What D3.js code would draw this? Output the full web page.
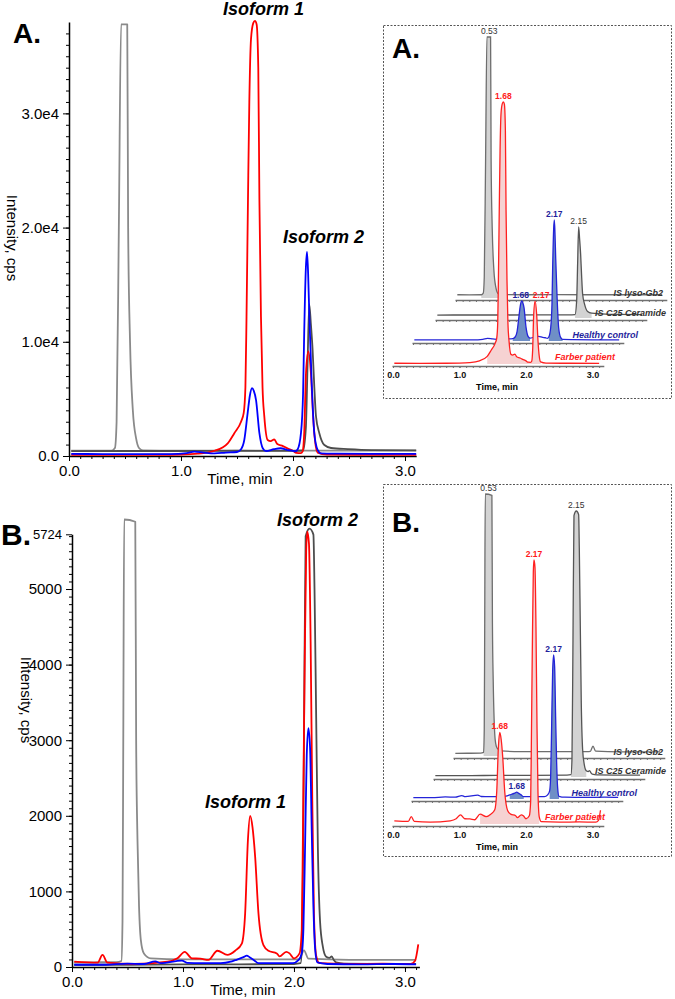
<!DOCTYPE html>
<html><head><meta charset="utf-8">
<script src="https://cdn.jsdelivr.net/npm/d3@7"></script>
<style>body{margin:0;background:#fff}svg{display:block}</style>
</head><body><svg id="c" width="675" height="999"></svg>
<script>
// ---------------- DATA ----------------
const seriesNames = ["IS lyso-Gb2", "IS C25 Ceramide", "Healthy control", "Farber patient"];
const timeTicks = [0, 1, 2, 3];
const yTicksA = [0, 10000, 20000, 30000];
const yTickLabelsA = ["0.0", "1.0e4", "2.0e4", "3.0e4"];
const yTicksB = [0, 1000, 2000, 3000, 4000, 5000, 5724];
const yTickLabelsB = ["0", "1000", "2000", "3000", "4000", "5000", "5724"];

// Panel A chromatograms [time (min), intensity (cps)]
const lysoA = [[0.02,470],[0.2,460],[0.38,470],[0.41,700],[0.425,3000],[0.445,20000],[0.465,37800],[0.52,37800],[0.528,20000],[0.545,10000],[0.57,4000],[0.6,1500],[0.625,700],[0.66,480],[1.0,470],[1.5,480],[2.0,470],[2.5,470],[3.1,470]];
const c25A = [[0.02,430],[0.5,440],[1.0,440],[1.5,450],[2.0,450],[2.09,480],[2.115,2500],[2.13,8000],[2.145,13300],[2.16,11500],[2.175,9300],[2.19,6100],[2.205,3500],[2.235,2000],[2.28,960],[2.34,700],[2.49,600],[2.7,520],[3.1,500]];
const healthyA = [[0.02,180],[0.3,170],[0.6,160],[0.9,170],[1.05,250],[1.12,380],[1.2,300],[1.3,230],[1.4,300],[1.5,350],[1.536,590],[1.565,1400],[1.595,3750],[1.615,5300],[1.634,5940],[1.65,5700],[1.67,4900],[1.70,2000],[1.73,680],[1.76,420],[1.83,600],[1.89,680],[1.95,520],[1.99,480],[2.02,400],[2.042,590],[2.071,2000],[2.09,5500],[2.10,10760],[2.115,16500],[2.125,17870],[2.135,16000],[2.146,12200],[2.167,6400],[2.19,2000],[2.22,530],[2.25,230],[2.4,200],[2.7,180],[3.1,180]];
const farberA = [[0.02,110],[0.4,100],[0.8,110],[1.0,130],[1.15,200],[1.3,460],[1.417,1110],[1.476,2000],[1.536,3000],[1.56,3770],[1.575,6000],[1.585,12200],[1.598,22450],[1.61,31000],[1.625,36500],[1.645,37900],[1.66,38100],[1.675,37800],[1.69,34000],[1.70,22450],[1.714,12200],[1.728,6000],[1.744,3450],[1.774,1400],[1.80,1300],[1.833,1450],[1.86,1050],[1.91,870],[1.95,670],[2.0,460],[2.03,270],[2.07,250],[2.086,400],[2.10,2000],[2.116,7250],[2.137,9150],[2.16,7250],[2.18,3450],[2.196,1400],[2.22,300],[2.3,130],[2.6,110],[3.1,100]];

// Panel B chromatograms
const lysoB = [[0.02,60],[0.2,62],[0.4,65],[0.445,80],[0.455,600],[0.462,3000],[0.47,5920],[0.57,5890],[0.578,3000],[0.59,1680],[0.604,800],[0.62,360],[0.648,180],[0.71,115],[1.0,100],[1.5,100],[2.0,100],[2.05,105],[2.09,220],[2.13,110],[2.5,95],[3.1,95]];
const c25B = [[0.02,30],[0.5,30],[1.0,35],[1.5,35],[2.0,40],[2.06,50],[2.075,400],[2.09,3000],[2.105,5700],[2.14,5800],[2.175,5720],[2.185,5000],[2.2,3300],[2.215,1600],[2.235,600],[2.26,270],[2.29,136],[2.32,120],[2.34,140],[2.36,90],[2.38,60],[2.45,45],[3.1,40]];
const healthyB = [[0.02,30],[0.3,30],[0.5,45],[0.65,40],[0.75,75],[0.8,50],[0.99,85],[1.04,55],[1.16,50],[1.34,50],[1.43,70],[1.47,90],[1.545,130],[1.575,150],[1.6,130],[1.64,90],[1.68,50],[1.75,50],[1.9,50],[1.99,50],[2.04,90],[2.07,180],[2.085,500],[2.1,1600],[2.115,2800],[2.13,3160],[2.145,2900],[2.16,1800],[2.175,800],[2.19,250],[2.21,60],[2.3,40],[2.6,35],[2.9,40],[3.1,35]];
const farberB = [[0.02,70],[0.23,57],[0.275,160],[0.32,57],[0.56,40],[0.86,70],[0.95,115],[1.016,200],[1.08,115],[1.157,110],[1.23,93],[1.31,215],[1.40,160],[1.47,215],[1.53,310],[1.56,710],[1.585,1680],[1.605,2000],[1.626,1855],[1.65,1460],[1.68,710],[1.725,290],[1.77,215],[1.845,180],[1.87,140],[1.93,200],[1.96,180],[2.0,115],[2.05,180],[2.07,490],[2.08,1680],[2.095,3800],[2.11,5500],[2.12,5760],[2.135,5600],[2.15,4300],[2.165,2200],[2.18,700],[2.2,150],[2.23,50],[2.5,40],[2.8,45],[3.05,40],[3.09,80],[3.12,300]];

// integrated (filled) peak windows in the insets, per series
const fillWindowsA = [[[0.38,0.7]], [[2.09,2.35]], [[1.5,1.78],[2.03,2.25]], [[1.35,2.25]]];
const fillWindowsB = [[[0.44,0.72]], [[2.06,2.3]], [[1.45,1.72],[2.06,2.22]], [[1.28,2.22]]];
// retention-time labels: [series index, time, text]
const peakLabelsA = [[0,0.5,"0.53"],[3,1.66,"1.68"],[2,2.125,"2.17"],[1,2.145,"2.15"],[2,1.634,"1.68"],[3,2.137,"2.17"]];
const peakLabelsB = [[0,0.52,"0.53"],[3,2.12,"2.17"],[2,2.13,"2.17"],[1,2.14,"2.15"],[3,1.605,"1.68"],[2,1.575,"1.68"]];

// ---------------- STYLE ----------------
const FONT = "'Liberation Sans', Arial, Helvetica, sans-serif";
const mainColors = ["#8a8a8a", "#4d4d4d", "#0000ff", "#ff0000"];
const insetLine = ["#6e6e6e", "#555555", "#2424d8", "#ff2020"];
const insetFill = ["#d3d3d3", "#d3d3d3", "#6f8fc6", "#f6d2d2"];
const labelColors = ["#333333", "#333333", "#1f1f9c", "#ff1a1a"];
const peakNudgeA = [0, 0, 0, 0, -1, 6];
const peakNudgeB = [0, 0, 0, 0, 0, 0];

const svg = d3.select("#c");

function styleAxis(sel, fs) {
  sel.selectAll("text").attr("font-family", FONT).attr("font-size", fs).attr("fill", "#000");
  sel.selectAll("line").attr("stroke", "#000");
  sel.select(".domain").attr("stroke", "#000").attr("stroke-width", 1.5);
}

function mainPanel(cfg) {
  const x = d3.scaleLinear().domain(cfg.xDomain).range(cfg.xRange);
  const y = d3.scaleLinear().domain(cfg.yDomain).range(cfg.yRange);
  const g = svg.append("g");
  const x0 = cfg.xRange[0], y0 = cfg.yRange[0];
  g.append("g").attr("transform", `translate(${x0},0)`)
    .call(d3.axisLeft(y).tickValues(d3.range(0, cfg.yDomain[1], cfg.yMinorStep)).tickSize(3).tickFormat(""))
    .call(a => { a.select(".domain").remove(); a.selectAll("line").attr("stroke", "#000"); });
  const ya = g.append("g").attr("transform", `translate(${x0},0)`)
    .call(d3.axisLeft(y).tickValues(cfg.yTicks).tickFormat((d, i) => cfg.yLabels[i]).tickSize(6).tickPadding(4).tickSizeOuter(0));
  styleAxis(ya, 15);
  ya.selectAll("text").filter(d => d === 5724).attr("font-size", 13);
  g.append("g").attr("transform", `translate(0,${y0})`)
    .call(d3.axisBottom(x).tickValues(d3.range(0, cfg.xDomain[1], 0.1)).tickSize(3).tickFormat(""))
    .call(a => { a.select(".domain").remove(); a.selectAll("line").attr("stroke", "#000"); });
  const xa = g.append("g").attr("transform", `translate(0,${y0})`)
    .call(d3.axisBottom(x).tickValues(timeTicks).tickFormat(d3.format(".1f")).tickSize(5).tickPadding(4).tickSizeOuter(0));
  styleAxis(xa, 15);
  const line = d3.line().x(d => x(d[0])).y(d => y(d[1])).curve(d3.curveMonotoneX);
  cfg.order.forEach(i => {
    g.append("path").datum(cfg.series[i]).attr("d", line)
      .attr("fill", "none").attr("stroke", mainColors[i]).attr("stroke-width", 1.8)
      .attr("stroke-linejoin", "round");
  });
  g.append("text").attr("x", cfg.xTitle[0]).attr("y", cfg.xTitle[1]).attr("text-anchor", "middle")
    .attr("font-family", FONT).attr("font-size", 15).text("Time, min");
  g.append("text").attr("transform", `translate(${cfg.yTitle[0]},${cfg.yTitle[1]}) rotate(90)`)
    .attr("text-anchor", "middle").attr("font-family", FONT).attr("font-size", 15).text("Intensity, cps");
  g.append("text").attr("x", cfg.letter[0]).attr("y", cfg.letter[1]).attr("font-family", FONT)
    .attr("font-weight", "bold").attr("font-size", cfg.letter[2]).text(cfg.letterText);
  cfg.iso.forEach(s => g.append("text").attr("x", s[0]).attr("y", s[1]).attr("font-family", FONT)
    .attr("font-weight", "bold").attr("font-style", "italic").attr("font-size", 18).text(s[2]));
}

mainPanel({
  xDomain: [0, 3.1], xRange: [69, 416.2], yDomain: [0, 38000], yRange: [456, 22], yMinorStep: 1000,
  yTicks: yTicksA, yLabels: yTickLabelsA, series: [lysoA, c25A, healthyA, farberA], order: [0, 1, 3, 2],
  xTitle: [240, 484], yTitle: [7, 238], letter: [13, 43, 28], letterText: "A.",
  iso: [[223, 15, "Isoform 1"], [283, 243, "Isoform 2"]]
});
mainPanel({
  xDomain: [0, 3.13], xRange: [72, 419.4], yDomain: [0, 5724], yRange: [967, 534.3], yMinorStep: 100,
  yTicks: yTicksB, yLabels: yTickLabelsB, series: [lysoB, c25B, healthyB, farberB], order: [0, 1, 3, 2],
  xTitle: [243, 995], yTitle: [21, 700], letter: [1, 545, 30], letterText: "B.",
  iso: [[277, 526, "Isoform 2"], [205, 808, "Isoform 1"]]
});

function inset(cfg) {
  const g = svg.append("g");
  g.append("rect").attr("x", 383.5).attr("y", cfg.top + 0.5).attr("width", 288).attr("height", cfg.bottom - cfg.top)
    .attr("fill", "none").attr("stroke", "#555").attr("stroke-width", 1).attr("stroke-dasharray", "2,1.5");
  const xi = d3.scaleLinear().domain([-0.015, 3.17]).range([392, 392 + 3.185 * 66.5]);
  const ys = cfg.series.map((s, i) => {
    const zero = cfg.axisY[i] - 2;
    return d3.scaleLinear().domain([0, d3.max(s, d => d[1])]).range([zero, zero - cfg.heights[i]]);
  });
  [0, 1, 2, 3].forEach(i => {
    const s = cfg.series[i], y = ys[i], dx = cfg.dx[i];
    const tg = g.append("g").attr("transform", `translate(${dx},0)`);
    tg.append("g").attr("transform", `translate(0,${cfg.axisY[i]})`)
      .call(d3.axisBottom(xi).tickValues(d3.range(0, 3.16, 0.1)).tickSize(2).tickFormat("").tickSizeOuter(0))
      .call(a => { a.select(".domain").attr("stroke", "#707070").attr("stroke-width", 1.6); a.selectAll("line").attr("stroke", "#707070"); });
    const area = d3.area().x(d => xi(d[0])).y0(y(0)).y1(d => y(d[1])).curve(d3.curveMonotoneX);
    cfg.windows[i].forEach(w => {
      tg.append("path").datum(s.filter(d => d[0] >= w[0] && d[0] <= w[1])).attr("d", area).attr("fill", insetFill[i]);
    });
    tg.append("path").datum(s).attr("d", d3.line().x(d => xi(d[0])).y(d => y(d[1])).curve(d3.curveMonotoneX))
      .attr("fill", "none").attr("stroke", insetLine[i]).attr("stroke-width", 1.3);
  });
  const la = g.append("g").attr("transform", `translate(0,${cfg.axisY[3]})`)
    .call(d3.axisBottom(xi).tickValues(timeTicks).tickFormat(d3.format(".1f")).tickSize(2).tickPadding(4).tickSizeOuter(0));
  la.select(".domain").remove();
  la.selectAll("line").attr("stroke", "#707070");
  la.selectAll("text").attr("font-family", FONT).attr("font-size", 9).attr("font-weight", "bold").attr("fill", "#111");
  g.append("text").attr("x", 497).attr("y", cfg.axisY[3] + 24).attr("text-anchor", "middle")
    .attr("font-family", FONT).attr("font-size", 9).attr("font-weight", "bold").text("Time, min");
  seriesNames.forEach((n, i) => {
    g.append("text").attr("x", cfg.names[i][0]).attr("y", cfg.names[i][1]).attr("text-anchor", "end")
      .attr("font-family", FONT).attr("font-size", 9).attr("font-weight", "bold").attr("font-style", "italic")
      .attr("fill", labelColors[i]).text(n);
  });
  cfg.peaks.forEach((p, k) => {
    const s = cfg.series[p[0]];
    const v = d3.max(s.filter(d => Math.abs(d[0] - p[1]) <= 0.06), d => d[1]);
    g.append("text").attr("x", xi(p[1]) + cfg.dx[p[0]] + cfg.nudge[k]).attr("y", ys[p[0]](v) - 3).attr("text-anchor", "middle")
      .attr("font-family", FONT).attr("font-size", 8.5).attr("font-weight", p[0] >= 2 ? "bold" : "normal")
      .attr("fill", labelColors[p[0]]).text(p[2]);
  });
  g.append("text").attr("x", 392).attr("y", cfg.letterY).attr("font-family", FONT).attr("font-weight", "bold")
    .attr("font-size", 28).text(cfg.letter);
}

inset({
  top: 25, bottom: 398, letter: "A.", letterY: 58,
  series: [lysoA, c25A, healthyA, farberA], axisY: [300, 320, 343, 366], dx: [63, 43, 20, 0],
  heights: [261, 91, 121, 262], windows: fillWindowsA, peaks: peakLabelsA, nudge: peakNudgeA,
  names: [[663, 296], [666, 316], [638, 338], [615, 360]]
});
inset({
  top: 484, bottom: 856, letter: "B.", letterY: 532,
  series: [lysoB, c25B, healthyB, farberB], axisY: [758, 779, 801, 826], dx: [61, 41, 19, 0],
  heights: [262, 266, 144, 264], windows: fillWindowsB, peaks: peakLabelsB, nudge: peakNudgeB,
  names: [[663, 755], [666, 774], [637, 796], [605, 820]]
});
</script></body></html>
